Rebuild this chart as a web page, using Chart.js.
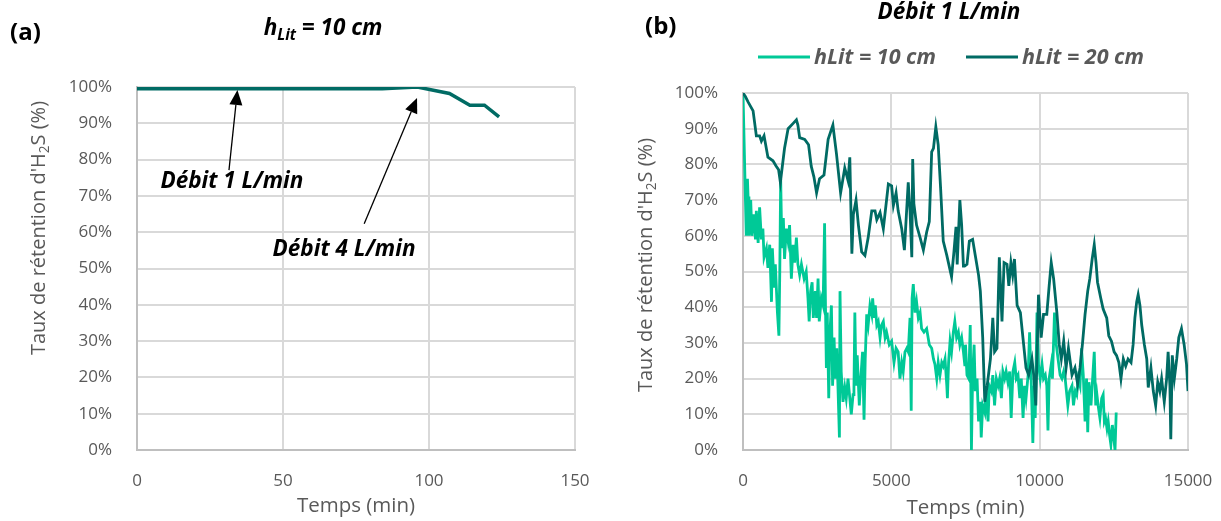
<!DOCTYPE html>
<html><head><meta charset="utf-8">
<script src="https://cdn.jsdelivr.net/npm/chart.js@4.4.0/dist/chart.umd.min.js"></script>
<style>
html,body{margin:0;padding:0;background:#fff;}
#wrap{position:relative;width:1221px;height:521px;overflow:hidden;background:#fff;}
canvas{position:absolute;top:0;}
#ca{left:0;} #cb{left:610px;}
</style></head><body>
<div id="wrap"><canvas id="ca" width="610" height="521"></canvas><canvas id="cb" width="611" height="521"></canvas></div>
<script>
// ---------- DATA ----------
const timeA = [0, 84, 96, 107, 114, 119, 124];
const retA  = [99.5, 99.5, 100, 98.2, 95, 95, 91.8];

const time20 = [0,80,170,340,450,560,620,710,840,1010,
1120,1200,1260,1400,1520,1690,1800,1850,1910,2080,
2210,2300,2390,2480,2580,2730,2870,3030,3150,3290,
3430,3540,3600,3670,3720,3810,3890,4000,4110,4220,
4340,4450,4510,4620,4730,4900,5010,5070,5160,5230,
5350,5440,5570,5630,5690,5720,5760,5850,5970,6080,
6190,6280,6360,6420,6500,6580,6660,6750,6870,7030,
7110,7180,7220,7310,7370,7430,7470,7550,7630,7740,
7830,7940,8000,8080,8150,8230,8340,8420,8480,8560,
8640,8730,8800,8900,8960,9030,9090,9150,9240,9350,
9460,9540,9630,9740,9800,9870,9960,10050,10130,10240,
10320,10390,10470,10580,10660,10730,10810,10890,10970,11090,
11190,11280,11360,11440,11530,11620,11690,11770,11840,11900,
11950,12060,12140,12260,12330,12420,12510,12590,12670,12740,
12820,12900,12980,13080,13150,13210,13270,13320,13380,13440,
13530,13610,13660,13750,13830,13910,13980,14050,14110,14200,
14280,14330,14390,14420,14470,14540,14620,14690,14780,14870,
14950,15000];
const ret20 = [100,99,97.5,95,88,88,86.5,88,82,81,
79.5,78.5,75,84.5,90,91.5,92.5,91,87.5,87,
85.5,79.5,76.5,72,76,77,87,91,83,72,
79,75.5,82,55,66,70,63,55.5,54.5,59.5,
67,67,64.5,66.5,62,74.5,74,68.5,72,67,
62,56,75,67,54,81.5,69,63,59.5,56,
61,64,83.5,84.5,90.5,85.5,73.5,58.5,54.5,48.5,
55.5,62.5,52,70,63,51.5,51.5,52,58.5,59,
54.5,49,44.5,31.5,13.5,18,25.5,37,27.5,28.5,
54,36,52.5,52,46,52.5,49,53.5,40.5,38.5,
29.5,23,21,25.5,21,12.5,43.5,31.5,38,38,
46,52.5,48,38.5,29.5,25.5,30.5,23,28.5,21,
23,18.5,23,29.5,38,44.5,48,53.5,57.5,52.5,
47,42.5,39.5,37,32,30.5,27.5,26.5,24.5,20,
25.5,23.5,25.5,24.5,29.5,37,41.5,43.5,40.5,35,
29.5,25.5,17.5,23,16.5,12.5,19,16.5,20,13.5,
20,27.5,18,3,26.5,20,25.5,31.5,34,29.5,
24,16.5];

const time10 = [0,110,150,170,200,260,300,370,420,450,
510,560,620,670,710,790,840,900,960,990,
1050,1090,1160,1210,1240,1270,1310,1360,1400,1460,
1520,1570,1630,1690,1740,1800,1850,1910,1970,2060,
2130,2190,2230,2280,2330,2370,2440,2480,2530,2570,
2640,2700,2750,2780,2810,2840,2890,2930,2980,3020,
3070,3110,3160,3200,3250,3270,3310,3370,3430,3480,
3540,3600,3650,3710,3740,3770,3810,3850,3920,3970,
4030,4080,4120,4170,4220,4280,4340,4370,4420,4460,
4510,4560,4620,4670,4730,4790,4840,4930,5010,5090,
5160,5230,5290,5350,5400,5460,5520,5570,5630,5670,
5700,5740,5800,5850,5910,5970,6020,6100,6190,6280,
6360,6420,6470,6530,6580,6640,6700,6750,6810,6870,
6890,6930,6980,7030,7090,7140,7200,7260,7310,7370,
7430,7480,7500,7550,7610,7660,7700,7740,7790,7830,
7890,7940,8000,8030,8080,8150,8190,8260,8300,8370,
8420,8480,8540,8600,8650,8710,8760,8820,8870,8930,
8990,9040,9100,9160,9210,9270,9330,9380,9440,9490,
9540,9610,9660,9720,9770,9810,9850,9910,9960,10020,
10080,10130,10190,10240,10280,10320,10390,10430,10500,10560,
10620,10690,10750,10810,10860,10950,11010,11090,11140,11200,
11250,11300,11360,11410,11470,11530,11580,11620,11660,11730,
11770,11840,11890,11930,11970,12030,12090,12140,12180,12220,
12270,12310,12360,12400,12450,12490,12540,12580];
const ret10 = [100,60,76,71,60,70,60,66,59,67,
58,68,59,62,54,56.5,51,57.5,41.5,56.5,
45.5,52,38.5,32,50,76,56.5,65,53.5,62,
58.5,63,48,57.5,52.5,59.5,52,49,52,48,
50,42.5,36,44.5,47,37,44.5,37,48,36,
42.5,40.5,63.5,40.5,23,38.5,14.5,33,40.5,18,
31.5,20,28.5,18,3.5,44.5,22,13.5,17.5,14.5,
20,14.5,10,15.5,17.5,38.5,18,26.5,12.5,20,
27.5,8.5,25.5,38,35,40.5,38,42.5,37,40.5,
35,36,31.5,35,36,31.5,33,29.5,30.5,24.5,
28.5,27.5,20,24.5,22,27.5,28.5,27.5,37,11,
42.5,46.5,38.5,41.5,37,38.5,34,33,34,29.5,
28.5,25.5,24,20,24.5,21,24.5,23.5,25.5,18,
14.5,24.5,30.5,27.5,33,36,31.5,33,29.5,31.5,
27.5,23.5,29.5,21,20,35,0,21,29.5,16.5,
20,8,13.5,3.5,12.5,10.5,16.5,8,18,16.5,
21,12.5,20,18,20,14.5,22,20,22,19,
22,9,22,24.5,20,21,14.5,20,9,18,
14.5,21,33,18,2,18,9,38.5,24,20,
24,20,21,18,5.5,20,24,20,38.5,29.5,
25.5,21,20,22,20,12.5,16.5,18,12.5,16.5,
15.5,20,18,28.5,21,8,20,5,19,12.5,
18,27.5,12.5,15.5,12.5,9,14.5,15.5,8,9,
6,8,4,1.5,7,4,0,10.5];

const xTicksA = [0, 50, 100, 150];
const xTicksB = [0, 5000, 10000, 15000];
const yTicks  = [0,10,20,30,40,50,60,70,80,90,100];

const labelA = 'Débit 1 L/min';
const labelB = 'Débit 4 L/min';
const legend10 = 'hLit = 10 cm';
const legend20 = 'hLit = 20 cm';

// ---------- STYLE ----------
const FONT = '"Open Sans", sans-serif';
const DARK = '#006B64';
const LIGHT = '#00C997';
const GRID = '#d9d9d9';
const AXIS = '#bfbfbf';
const TXT = '#595959';

function pts(t, v){ return t.map((x,i)=>({x:x, y:v[i]})); }

function drawParts(ctx, parts, x, y, o){
  const f = s => `${o.style||'normal'} ${o.weight||'normal'} ${s}px ${FONT}`;
  const subSize = o.size*0.68;
  let w = 0;
  const ws = parts.map(p => { ctx.font = f(p.sub?subSize:o.size); const m = ctx.measureText(p.t).width; w += m; return m; });
  ctx.save();
  ctx.translate(x, y);
  if (o.rot) ctx.rotate(o.rot);
  ctx.fillStyle = o.color; ctx.textBaseline = 'alphabetic'; ctx.textAlign = 'left';
  let cx = o.align === 'center' ? -w/2 : 0;
  parts.forEach((p,i) => { ctx.font = f(p.sub?subSize:o.size); ctx.fillText(p.t, cx, p.sub ? o.size*0.22 : 0); cx += ws[i]; });
  ctx.restore();
}

function arrow(ctx, x1, y1, x2, y2){
  const a = Math.atan2(y2-y1, x2-x1), L = 15, W = 6.5;
  const bx = x2 - L*Math.cos(a), by = y2 - L*Math.sin(a);
  ctx.save();
  ctx.strokeStyle = '#000'; ctx.fillStyle = '#000'; ctx.lineWidth = 1.3;
  ctx.beginPath(); ctx.moveTo(x1,y1); ctx.lineTo(bx,by); ctx.stroke();
  ctx.beginPath(); ctx.moveTo(x2,y2);
  ctx.lineTo(bx + W*Math.sin(a), by - W*Math.cos(a));
  ctx.lineTo(bx - W*Math.sin(a), by + W*Math.cos(a));
  ctx.closePath(); ctx.fill();
  ctx.restore();
}

function scaleX(ticks){
  return {
    type:'linear', min:ticks[0], max:ticks[ticks.length-1],
    afterBuildTicks: s => { s.ticks = ticks.map(v=>({value:v})); },
    grid:{color:GRID, lineWidth:2, drawTicks:false},
    border:{color:AXIS, width:2},
    ticks:{padding:21, color:TXT, font:{family:FONT, size:17}, maxRotation:0, callback:v=>String(v)},
    afterFit: s => { s.height = 71; s.paddingLeft = 0; s.paddingRight = 0; }
  };
}
function scaleY(w){
  return {
    type:'linear', min:0, max:100,
    afterBuildTicks: s => { s.ticks = yTicks.map(v=>({value:v})); },
    grid:{color:GRID, lineWidth:2, drawTicks:false},
    border:{color:AXIS, width:2},
    ticks:{padding:25, color:TXT, font:{family:FONT, size:17}, callback:v=>v+'%'},
    afterFit: s => { s.width = w; s.paddingTop = 0; s.paddingBottom = 0; }
  };
}

const yTitle = [{t:"Taux de rétention d'H"},{t:'2',sub:true},{t:'S (%)'}];

// ---------- CHART (a) ----------
new Chart(document.getElementById('ca'), {
  type:'scatter',
  data:{datasets:[{data:pts(timeA, retA), showLine:true, borderColor:DARK, borderWidth:3.5, pointRadius:0, tension:0}]},
  options:{
    responsive:false, animation:false, events:[],
    layout:{padding:{left:0, top:87, right:35, bottom:0}},
    plugins:{legend:{display:false}, tooltip:{enabled:false}},
    scales:{x:scaleX(xTicksA), y:scaleY(137)}
  },
  plugins:[{id:'decoA', afterDraw(chart){
    const ctx = chart.ctx, xs = chart.scales.x, ys = chart.scales.y;
    const P = (t,v)=>[xs.getPixelForValue(t), ys.getPixelForValue(v)];
    let a = P(31.5,77.1), b = P(34.4,99.2); arrow(ctx, a[0],a[1], b[0],b[1]);
    a = P(77.8,62.3); b = P(95.9,97.0); arrow(ctx, a[0],a[1], b[0],b[1]);
    let c = P(32.5,74.4);
    drawParts(ctx, [{t:labelA}], c[0], c[1]+8, {size:22.5, weight:'bold', style:'italic', color:'#000', align:'center'});
    c = P(70.9,55.6);
    drawParts(ctx, [{t:labelB}], c[0], c[1]+8, {size:22.5, weight:'bold', style:'italic', color:'#000', align:'center'});
    drawParts(ctx, [{t:'(a)'}], 10, 40, {size:24, weight:'bold', color:'#000'});
    drawParts(ctx, [{t:'h'},{t:'Lit',sub:true},{t:' = 10 cm'}], 323, 35, {size:22.5, weight:'bold', style:'italic', color:'#000', align:'center'});
    drawParts(ctx, yTitle, 38+7, 228, {size:20, color:TXT, align:'center', rot:-Math.PI/2});
    drawParts(ctx, [{t:'Temps (min)'}], (chart.chartArea.left+chart.chartArea.right)/2, 512, {size:20.5, color:TXT, align:'center'});
  }}]
});

// ---------- CHART (b) ----------
new Chart(document.getElementById('cb'), {
  type:'scatter',
  data:{datasets:[
    {label:legend10, data:pts(time10, ret10), showLine:true, borderColor:LIGHT, borderWidth:2.8, pointRadius:0, tension:0, order:1},
    {label:legend20, data:pts(time20, ret20), showLine:true, borderColor:DARK, borderWidth:2.8, pointRadius:0, tension:0, order:0}
  ]},
  options:{
    responsive:false, animation:false, events:[],
    layout:{padding:{left:0, top:93, right:33, bottom:0}},
    plugins:{legend:{display:false}, tooltip:{enabled:false}},
    scales:{x:scaleX(xTicksB), y:scaleY(133)}
  },
  plugins:[{id:'decoB', afterDraw(chart){
    const ctx = chart.ctx;
    drawParts(ctx, [{t:'(b)'}], 35, 34, {size:24, weight:'bold', color:'#000'});
    drawParts(ctx, [{t:'Débit 1 L/min'}], 339, 19, {size:22.5, weight:'bold', style:'italic', color:'#000', align:'center'});
    const ds = chart.data.datasets;
    const items = [[148, 204, ds[0]], [356, 412, ds[1]]];
    items.forEach(([lx, tx, d]) => {
      ctx.save(); ctx.strokeStyle = d.borderColor; ctx.lineWidth = 3;
      ctx.beginPath(); ctx.moveTo(lx, 57); ctx.lineTo(lx+52, 57); ctx.stroke(); ctx.restore();
      drawParts(ctx, [{t:d.label}], tx, 64, {size:21.5, weight:'bold', style:'italic', color:TXT});
    });
    drawParts(ctx, yTitle, 35+7, 265, {size:20, color:TXT, align:'center', rot:-Math.PI/2});
    drawParts(ctx, [{t:'Temps (min)'}], (chart.chartArea.left+chart.chartArea.right)/2, 514, {size:20.5, color:TXT, align:'center'});
  }}]
});
</script>
</body></html>
